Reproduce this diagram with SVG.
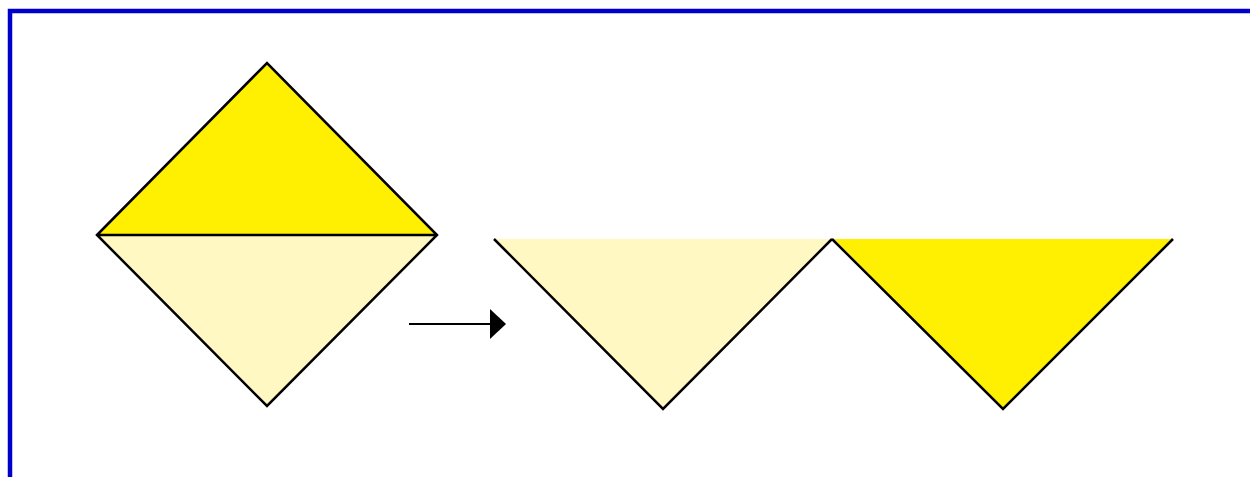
<svg xmlns="http://www.w3.org/2000/svg" width="1250" height="477" viewBox="0 0 1250 477">
<style>
.edge{stroke:#000;stroke-width:2.5;fill:none;stroke-linejoin:miter}
.dark{fill:#FFEF00}
.light{fill:#FFF8C2}
</style>
<defs>
<marker id="ah" markerWidth="16" markerHeight="30" refX="0" refY="15" orient="auto" markerUnits="userSpaceOnUse">
<path d="M0,0 L16,15 L0,30 Z" fill="#000"/>
</marker>
</defs>
<rect x="0" y="0" width="1250" height="477" fill="#fff"/>
<rect x="10" y="11" width="1260" height="480" fill="none" stroke="#0000CC" stroke-width="4.5"/>
<g id="diamond">
<path class="dark" d="M97,235 L267,63 L437,235 Z"/>
<path class="light" d="M97,235 L267,406 L437,235 Z"/>
<path class="edge" d="M97,235 L267,63 L437,235 L267,406 Z M97,235 L437,235"/>
</g>
<g id="tri-light">
<path class="light" d="M494,239 L832,239 L663,409 Z"/>
<path class="edge" d="M494,239 L663,409 L832,239"/>
</g>
<g id="tri-dark">
<path class="dark" d="M834,239 L1173,239 L1003,409 Z"/>
<path class="edge" d="M832,239 L1003,409 L1173,239"/>
</g>
<g id="connectors">
<line x1="409" y1="324" x2="490" y2="324" stroke="#000" stroke-width="2" marker-end="url(#ah)"/>
</g>
</svg>
